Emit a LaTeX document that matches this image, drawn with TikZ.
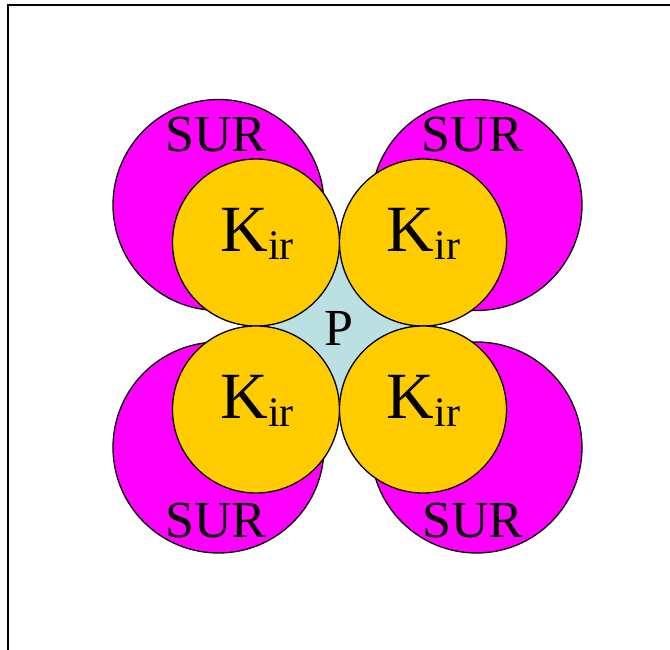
\documentclass[tikz,border=0pt]{standalone}
\usepackage{fontspec}
\setmainfont{Liberation Serif}
\usepackage{xcolor}
\definecolor{surmag}{RGB}{255,0,255}
\definecolor{kirgold}{RGB}{255,204,0}
\definecolor{pblue}{RGB}{187,224,228}
\newcommand{\kirtext}{{\fontsize{66}{66}\selectfont K}\raisebox{-8pt}{\fontsize{42}{42}\selectfont ir}}

\begin{document}
\begin{tikzpicture}[x=1pt,y=-1pt,
  sur/.style={circle,draw,line width=1.3pt,fill=surmag,minimum size=211pt,inner sep=0pt},
  kir/.style={circle,draw,line width=1.3pt,fill=kirgold,minimum size=167pt,inner sep=0pt},
  big/.style={anchor=base,inner sep=0pt,font=\fontsize{52}{52}\selectfont},
  frame/.style={line width=1.6pt}
]
\useasboundingbox (0,0) rectangle (670,650);
\draw[frame] (8,650) -- (8,5) -- (670,5);

% subunits
\node[sur] (s1) at (218.5,205)   {};
\node[sur] (s2) at (476.5,205)   {};
\node[sur] (s3) at (218.5,447.5) {};
\node[sur] (s4) at (476.5,447.5) {};

% pore
\coordinate (c1) at (256,242.5);
\coordinate (c4) at (423,409.5);
\fill[pblue] (c1) rectangle (c4);

\node[kir] (k1) at (256,242.5) {};
\node[kir] (k2) at (423,242.5) {};
\node[kir] (k3) at (256,409.5) {};
\node[kir] (k4) at (423,409.5) {};

\node[anchor=base,inner sep=0pt] (k1t) at ([xshift=1pt,yshift=-9pt]k1.center) {\kirtext};
\node[anchor=base,inner sep=0pt] (k2t) at ([xshift=0.5pt,yshift=-9pt]k2.center) {\kirtext};
\node[anchor=base,inner sep=0pt] (k3t) at ([xshift=1pt,yshift=-9pt]k3.center) {\kirtext};
\node[anchor=base,inner sep=0pt] (k4t) at ([xshift=0.5pt,yshift=-9pt]k4.center) {\kirtext};

\node[big] (s1t) at (216,152)   {SUR};
\node[big] (s2t) at (472.5,152) {SUR};
\node[big] (s3t) at (216,537)   {SUR};
\node[big] (s4t) at (473,537)   {SUR};

\node[big] (p) at (339,345) {P};
\end{tikzpicture}
\end{document}
